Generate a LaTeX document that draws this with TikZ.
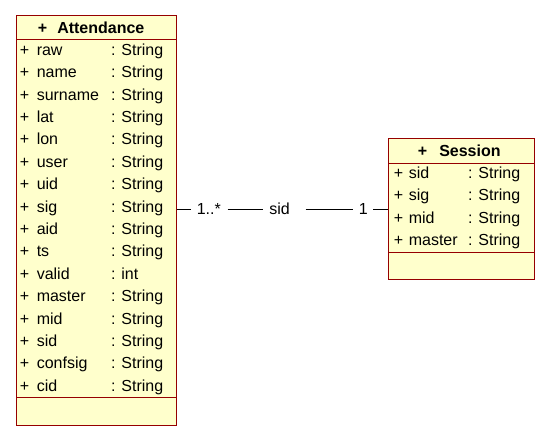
\documentclass[tikz,border=0pt]{standalone}
\usepackage{fontspec}
\setmainfont{Liberation Sans}
\definecolor{ufill}{RGB}{255,255,204}
\definecolor{ubord}{RGB}{150,0,0}
\begin{document}
\begin{tikzpicture}[x=0.75pt,y=-0.75pt,
  umlbox/.style={draw=ubord,fill=ufill,line width=0.8pt,inner sep=0pt,anchor=north west},
  sepline/.style={draw=ubord,line width=0.75pt},
  txt/.style={inner sep=0pt,anchor=base west,font=\fontsize{12pt}{14pt}\selectfont},
  htxt/.style={txt,font=\fontsize{12pt}{14pt}\selectfont\bfseries},
  conn/.style={draw=black,line width=0.75pt}]
\useasboundingbox (0,0) rectangle (552,440);
\fill[white] (0,0) rectangle (552,440);
% Attendance
\node[umlbox,minimum width=120pt,minimum height=307.5pt] (att) at (16,15) {};
\draw[sepline] (att.west |- 0,39) -- (att.east |- 0,39);
\draw[sepline] (att.west |- 0,397) -- (att.east |- 0,397);
\node[htxt] (attp) at (37.5,33) {+};
\node[htxt] (attn) at (57,33) {Attendance};
\foreach \n/\t [count=\i from 0] in {raw/String,name/String,surname/String,lat/String,lon/String,user/String,uid/String,sig/String,aid/String,ts/String,valid/int,master/String,mid/String,sid/String,confsig/String,cid/String}{
  \node[txt] (ap\i) at (19.5,{55.3+22.4*\i}) {+};
  \node[txt] (an\i) at (36.5,{55.3+22.4*\i}) {\n};
  \node[txt] (at\i) at (110.8,{55.3+22.4*\i}) {: \t};
}
% Session
\node[umlbox,minimum width=109.5pt,minimum height=105.75pt] (ses) at (388,138) {};
\draw[sepline] (ses.west |- 0,163) -- (ses.east |- 0,163);
\draw[sepline] (ses.west |- 0,252) -- (ses.east |- 0,252);
\node[htxt] (sesp) at (417.5,156) {+};
\node[htxt] (sesn) at (439,156) {Session};
\foreach \n/\t [count=\i from 0] in {sid/String,sig/String,mid/String,master/String}{
  \node[txt] (sp\i) at (393.5,{178.3+22.4*\i}) {+};
  \node[txt] (sn\i) at (408.5,{178.3+22.4*\i}) {\n};
  \node[txt] (st\i) at (467.8,{178.3+22.4*\i}) {: \t};
}
% association
\coordinate (ly) at (0,209.3);
\node[txt] (m1) at (196.5,214) {1..*};
\node[txt] (rn) at (269,214) {sid};
\node[txt] (m2) at (358.5,214) {1};
\draw[conn] (att.east |- ly) -- ([xshift=-4.1pt]m1.west |- ly);
\draw[conn] ([xshift=4.9pt]m1.east |- ly) -- ([xshift=-4.7pt]rn.west |- ly);
\draw[conn] ([xshift=11.7pt]rn.east |- ly) -- ([xshift=-4.4pt]m2.west |- ly);
\draw[conn] ([xshift=4pt]m2.east |- ly) -- (ses.west |- ly);
\end{tikzpicture}
\end{document}
